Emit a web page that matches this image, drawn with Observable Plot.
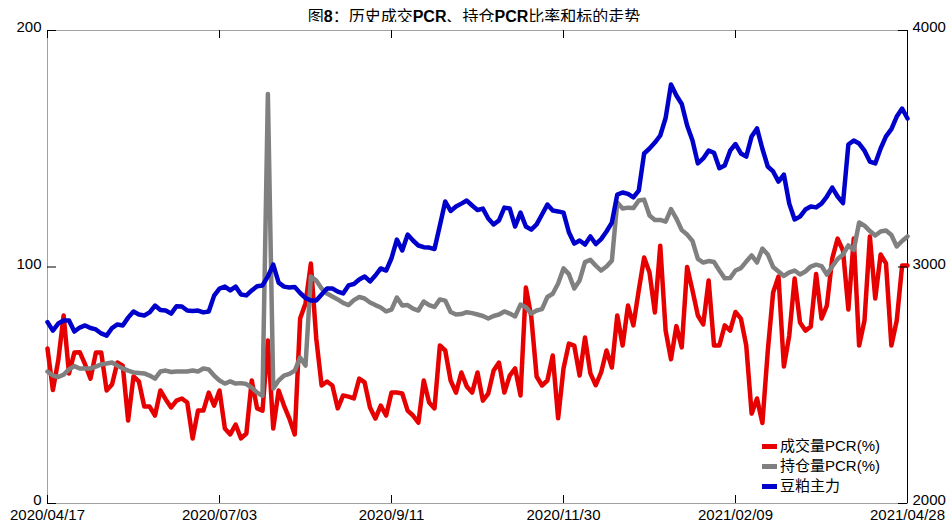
<!DOCTYPE html>
<html><head><meta charset="utf-8">
<script src="https://cdn.jsdelivr.net/npm/d3@7"></script>
<script src="https://cdn.jsdelivr.net/npm/@observablehq/plot@0.6"></script>
<style>
body{margin:0;background:#fff;}
#wrap{position:relative;width:948px;height:523px;font-family:"Liberation Sans",Arial,"Noto Sans CJK SC",sans-serif;color:#000;}
#title{position:absolute;left:0;top:8px;width:948px;text-align:center;font-size:16px;line-height:18px;font-family:"Liberation Sans",Arial,"Noto Sans CJK SC",sans-serif;}
#title b{font-weight:bold;}
#chart{position:absolute;left:0;top:22px;}
#legend{position:absolute;left:762px;top:436px;font-size:15px;}
#legend .row{height:20px;line-height:20px;white-space:nowrap;}
#legend .sw{display:inline-block;width:15px;height:5px;vertical-align:middle;margin-right:3px;position:relative;top:-1px;}
</style></head>
<body>
<div id="wrap">
  <div id="title">图<b>8</b>：历史成交<b>PCR</b>、持仓<b>PCR</b>比率和标的走势</div>
  <div id="chart"></div>
  <div id="legend"></div>
</div>
<script>
const dateLabels = ["2020/04/17","2020/07/03","2020/9/11","2020/11/30","2021/02/09","2021/04/28"];
const labelIdx = [0,32,64,96,128,160];
const leftTicks = [0,100,200];
const rightTicks = [2000,3000,4000];
const seriesNames = ["成交量PCR(%)","持仓量PCR(%)","豆粕主力"];
const seriesColors = ["#e60000","#808080","#0000cc"];

// 成交量PCR(%)
const volPCR = [65.5,48,60.5,79.5,55,63.8,64,58.8,52.8,63.8,63.8,47.8,50.3,59.6,58.3,35.1,53.7,51.6,41,41,37.2,47.8,44,40.6,43.5,44.4,42.7,27.5,39.3,39.3,46.9,41.4,
47.8,31.7,29.2,33.4,27.5,29.6,52,40.2,39.3,68.9,31.7,47.8,41.4,35.9,29.2,78.2,84.6,101.5,69.8,49.9,51.6,49.9,40.2,45.7,45.2,44.4,52.8,51.2,40.6,35.9,41.4,37.2,
46.9,46.9,46.5,39.3,37.2,34.2,52,42.7,40.2,66.8,64.7,52,46.9,55.4,49.5,46.9,55.4,43.5,46.5,56.2,59.6,46.9,54.1,57.1,45.7,91.3,79.1,53.7,49.9,52,62.6,36,
57.1,67.6,66.8,54.1,70.2,55,50,55.4,64.7,57.5,79.5,66.8,83.7,75.3,90.1,104,97.7,80.8,109,73.1,61,75,66,100,90.1,79.5,75.7,94.3,66.8,66.8,75.3,73.1,
81,78.2,66.8,38,44.4,34,64.3,89.2,96,57.9,71,95.1,76.5,73.1,74.8,97,78.2,83.7,103.6,112,107,82,112,66.8,77.4,112.9,86.7,105.3,101.5,66.8,77.4,100.6,100.6];

// 持仓量PCR(%)
const oiPCR = [55.8,54.1,53.5,54.5,56.7,58.1,57.1,57.1,57.1,57.9,58.8,59.2,59.6,58.3,57.1,56.2,55.4,55.2,55,54.1,52.8,55.8,56.2,55.6,55.8,55.8,55.8,56.2,55.8,57.1,56.7,54.1,
52,50.7,51.6,50.7,50.9,50.5,49,46.9,45.5,173.2,48.6,52,54.1,54.8,56.2,61.7,58.3,96,94.3,90.9,88.8,87.5,86.3,84.8,83.9,86,87.3,86.7,85,83.9,82.9,81.2,
82,87.1,83.7,83.9,82.4,81.6,85.4,83.9,83.1,86.3,85.8,81,79.9,80.1,80.9,80.5,79.9,79.3,78.2,79.3,79.9,81.2,80.3,79.1,84.1,83,80.3,81.6,82.2,87.3,88.7,93,
99.4,97,90.9,94.3,102.1,103,100.6,98.5,100.2,102.7,127.3,124.7,125.1,124.9,128.1,128.5,121.8,119.9,119.9,119.2,124.5,120.5,115.6,113.7,111,103.4,101.9,102.5,102.1,98.5,95.2,95.3,
98.5,99.5,102.3,104.9,101.9,107.8,105.3,100,98.1,96.2,97.7,98.5,96.8,98.1,100.2,101,100.4,96.8,100.2,103.4,105.3,109.1,107.2,118.8,117.5,115.2,113.3,115,115.4,113.5,108.7,111,112.9];

// 豆粕主力 (right axis)
const soymeal = [2767,2731,2761,2774,2774,2727,2744,2753,2742,2736,2719,2710,2742,2757,2753,2786,2812,2799,2795,2808,2837,2818,2816,2803,2834,2833,2816,2814,2816,2808,2812,2879,
2909,2917,2901,2917,2884,2880,2901,2919,2922,2960,3010,2934,2917,2913,2915,2890,2869,2858,2858,2884,2909,2909,2896,2888,2922,2928,2947,2960,2939,2964,2994,2985,
3037,3116,3070,3137,3112,3091,3084,3082,3076,3175,3277,3237,3256,3268,3281,3260,3241,3247,3205,3180,3197,3251,3247,3171,3230,3171,3158,3180,3222,3264,3239,3235,
3230,3147,3099,3112,3095,3129,3097,3118,3150,3188,3306,3315,3309,3294,3323,3480,3501,3526,3556,3630,3772,3725,3689,3598,3535,3438,3459,3492,3483,3418,3429,3492,
3520,3480,3467,3552,3586,3500,3425,3404,3361,3391,3268,3201,3213,3243,3256,3252,3268,3298,3336,3298,3270,3518,3535,3522,3492,3446,3438,3501,3552,3583,3636,3670,3628];

const W = 948, H = 501, mL = 47, mR = 41, mT = 8, mB = 20;
const n = volPCR.length - 1;
const yMax = 200;
const tickLenY = yMax * 8 / (H - mT - mB);
const tickLenX = n * 9 / (W - mL - mR);
const toLeft = v => (v - rightTicks[0]) / (rightTicks[2] - rightTicks[0]) * yMax;

const font = '"Liberation Sans", Arial, sans-serif';
const chart = Plot.plot({
  width: W, height: H,
  marginLeft: mL, marginRight: mR, marginTop: mT, marginBottom: mB,
  style: {fontFamily: font, fontSize: "15px", color: "#000", background: "#fff", overflow: "visible"},
  x: {domain: [0, n], axis: null},
  y: {domain: [0, yMax], axis: null},
  marks: [
    Plot.frame({stroke: "#a0a0a0"}),
    Plot.ruleX([n], {stroke: "#000"}),
    Plot.lineY(volPCR, {x: (d, i) => i, y: d => d, stroke: seriesColors[0], strokeWidth: 4.5}),
    Plot.lineY(oiPCR, {x: (d, i) => i, y: d => d, stroke: seriesColors[1], strokeWidth: 4.5}),
    Plot.lineY(soymeal, {x: (d, i) => i, y: d => toLeft(d), stroke: seriesColors[2], strokeWidth: 4.5}),
    // inward ticks
    Plot.ruleX(labelIdx, {x: d => d, y1: yMax, y2: yMax - tickLenY, stroke: "#000"}),
    Plot.ruleX(labelIdx, {x: d => d, y1: 0, y2: tickLenY, stroke: "#000"}),
    Plot.ruleY(leftTicks, {y: d => d, x1: 0, x2: tickLenX, stroke: "#000"}),
    Plot.ruleY(leftTicks, {y: d => d, x1: n, x2: n - tickLenX, stroke: "#000"}),
    Plot.axisX(labelIdx, {anchor: "bottom", tickSize: 0, tickPadding: 6, fontSize: 15,
      tickFormat: d => dateLabels[labelIdx.indexOf(d)]}),
    Plot.axisY(leftTicks, {anchor: "left", tickSize: 0, tickPadding: 6, fontSize: 15, dy: -3, tickFormat: d => String(d)}),
    Plot.axisY(leftTicks, {anchor: "right", tickSize: 0, tickPadding: 5, fontSize: 15, dy: -3,
      tickFormat: d => String(rightTicks[leftTicks.indexOf(d)])})
  ]
});
document.getElementById("chart").appendChild(chart);

const leg = document.getElementById("legend");
seriesNames.forEach((name, i) => {
  const row = document.createElement("div");
  row.className = "row";
  const sw = document.createElement("span");
  sw.className = "sw";
  sw.style.background = seriesColors[i];
  row.appendChild(sw);
  row.appendChild(document.createTextNode(name));
  leg.appendChild(row);
});
</script>
</body></html>
